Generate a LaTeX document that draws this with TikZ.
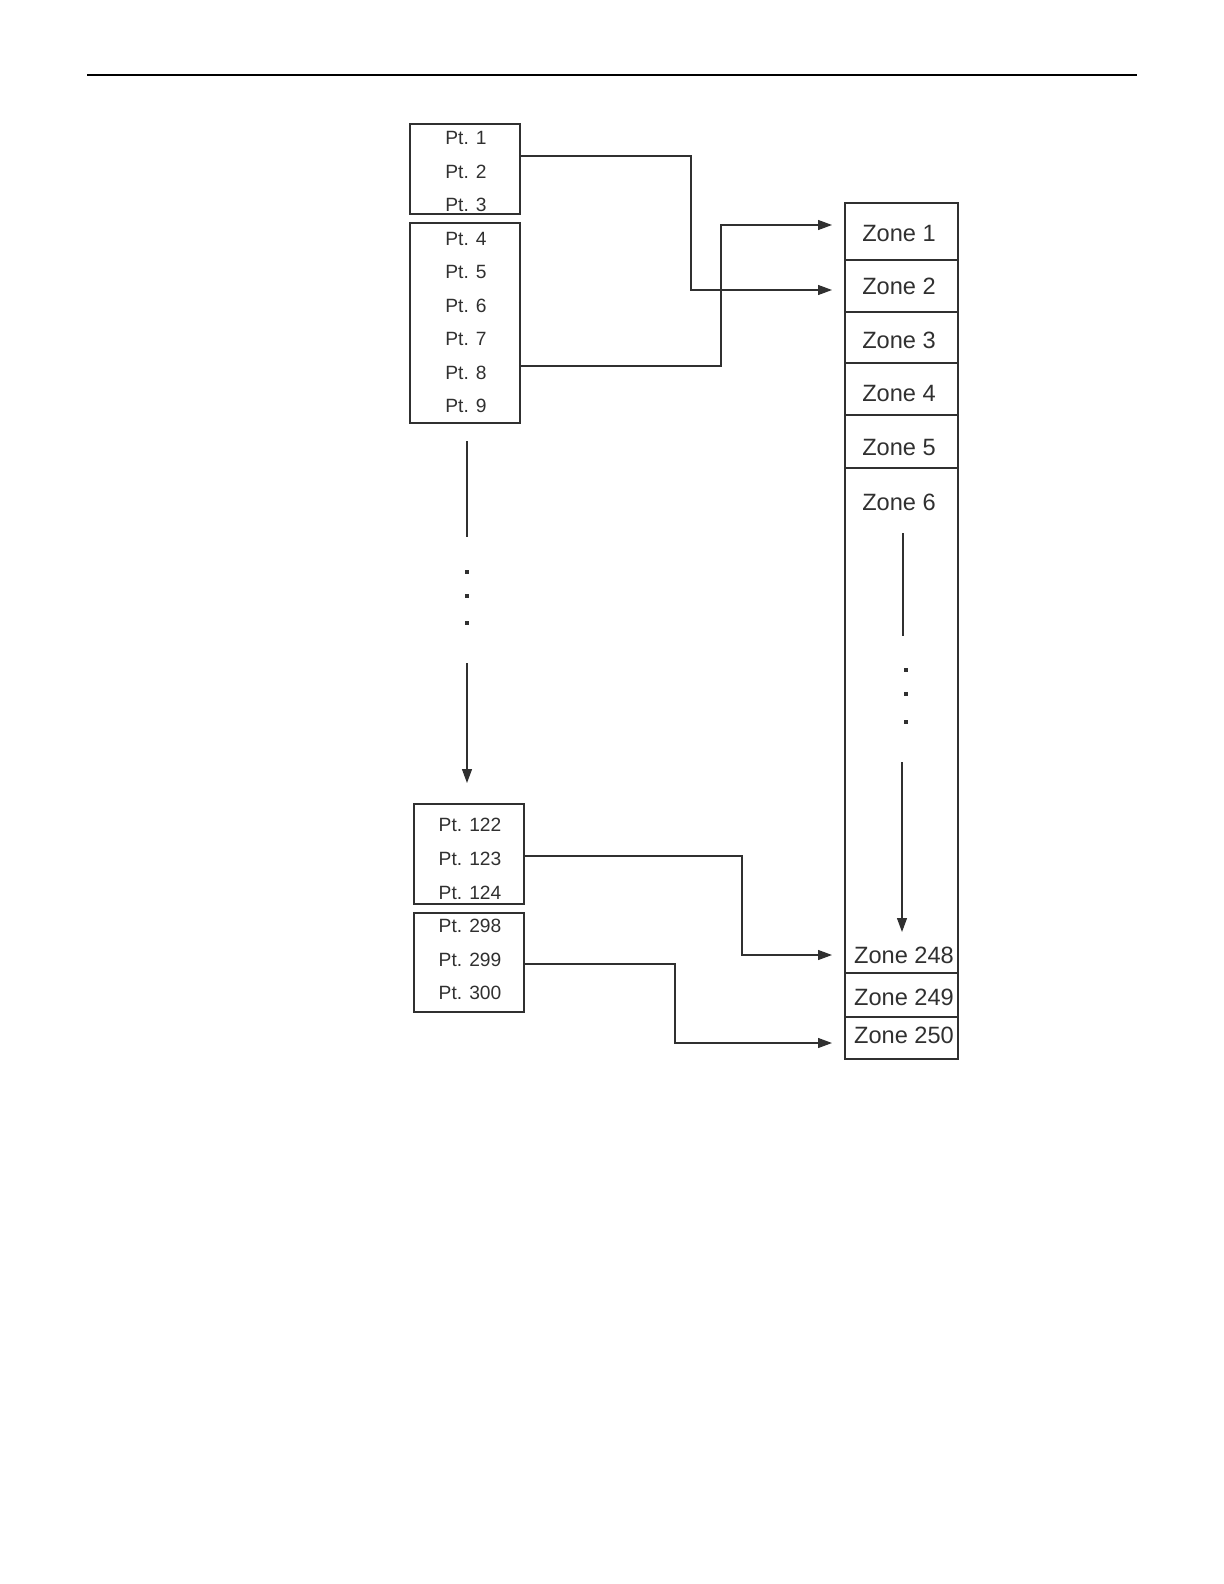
\documentclass[tikz,border=0pt]{standalone}
\usepackage{fontspec}
\setmainfont{Liberation Sans}
\usetikzlibrary{arrows.meta,fit}
\definecolor{ink}{HTML}{303030}
\tikzset{
  cell/.style={draw=ink, line width=0.6pt, inner sep=0pt},
  ptlabel/.style={font=\fontsize{9.6}{11}\selectfont, text=ink, inner sep=0pt},
  zonelabel/.style={font=\fontsize{11.8}{13}\selectfont, text=ink, inner sep=0pt},
  conn/.style={draw=ink, line width=0.6pt, -{Triangle[length=7pt,width=5pt]}},
  plain/.style={draw=ink, line width=0.6pt},
  dot/.style={fill=ink, minimum size=1.6pt, inner sep=0pt, shape=rectangle}
}
\begin{document}
\begin{tikzpicture}[x=0.5pt,y=-0.5pt]
\useasboundingbox (0,0) rectangle (1224,1584);
% header rule
\coordinate (ruleL) at (87,75);
\coordinate (ruleR) at (1137,75);
\draw[line width=1pt, black] (ruleL) -- (ruleR);

% point boxes
\node[cell, fit={(410,124) (520,214)}] (b1) {};
\node[cell, fit={(410,223) (520,423)}] (b2) {};
\node[cell, fit={(414,804) (524,904)}] (b3) {};
\node[cell, fit={(414,913) (524,1012)}] (b4) {};

\node[ptlabel] (p1) at (466,138) {Pt. 1};
\node[ptlabel] (p2) at (466,172) {Pt. 2};
\node[ptlabel] (p3) at (466,205) {Pt. 3};
\node[ptlabel] (p4) at (466,239) {Pt. 4};
\node[ptlabel] (p5) at (466,272) {Pt. 5};
\node[ptlabel] (p6) at (466,306) {Pt. 6};
\node[ptlabel] (p7) at (466,339) {Pt. 7};
\node[ptlabel] (p8) at (466,373) {Pt. 8};
\node[ptlabel] (p9) at (466,406) {Pt. 9};
\node[ptlabel] (p122) at (470,825) {Pt. 122};
\node[ptlabel] (p123) at (470,859) {Pt. 123};
\node[ptlabel] (p124) at (470,893) {Pt. 124};
\node[ptlabel] (p298) at (470,926) {Pt. 298};
\node[ptlabel] (p299) at (470,960) {Pt. 299};
\node[ptlabel] (p300) at (470,993) {Pt. 300};

% zone cells
\node[cell, fit={(845,203) (958,260)}] (z1) {};
\node[cell, fit={(845,260) (958,312)}] (z2) {};
\node[cell, fit={(845,312) (958,363)}] (z3) {};
\node[cell, fit={(845,363) (958,415)}] (z4) {};
\node[cell, fit={(845,415) (958,468)}] (z5) {};
\node[cell, fit={(845,468) (958,973)}] (z6) {};
\node[cell, fit={(845,973) (958,1017)}] (z249) {};
\node[cell, fit={(845,1017) (958,1059)}] (z250) {};

\node[zonelabel] (t1) at (899,233) {Zone 1};
\node[zonelabel] (t2) at (899,286) {Zone 2};
\node[zonelabel] (t3) at (899,340) {Zone 3};
\node[zonelabel] (t4) at (899,393) {Zone 4};
\node[zonelabel] (t5) at (899,447) {Zone 5};
\node[zonelabel] (t6) at (899,502) {Zone 6};
\node[zonelabel] (t248) at (904,955) {Zone 248};
\node[zonelabel] (t249) at (904,997) {Zone 249};
\node[zonelabel] (t250) at (904,1035) {Zone 250};

% connector start points on the box edges
\coordinate (s1) at (520,156);
\coordinate (s2) at (520,366);
\coordinate (s3) at (524,856);
\coordinate (s4) at (524,964);
% arrow end points just left of the zone column
\coordinate (e1) at (832,225);
\coordinate (e2) at (832,290);
\coordinate (e248) at (832,955);
\coordinate (e250) at (832,1043);

% connectors
\draw[conn] (s1) -- (691,156) -- (691,290) -- (e2);
\draw[conn] (s2) -- (721,366) -- (721,225) -- (e1);
\draw[conn] (s3) -- (742,856) -- (742,955) -- (e248);
\draw[conn] (s4) -- (675,964) -- (675,1043) -- (e250);

% left continuation
\coordinate (la) at (467,441);
\coordinate (lb) at (467,537);
\coordinate (lc) at (467,663);
\coordinate (ld) at (467,783);
\draw[plain] (la) -- (lb);
\draw[conn] (lc) -- (ld);
\node[dot] (ld1) at (467,572) {};
\node[dot] (ld2) at (467,596) {};
\node[dot] (ld3) at (467,623) {};

% zone continuation
\coordinate (za) at (903,533);
\coordinate (zb) at (903,636);
\coordinate (zc) at (902,762);
\coordinate (zd) at (902,932);
\draw[plain] (za) -- (zb);
\draw[conn] (zc) -- (zd);
\node[dot] (zd1) at (906,670) {};
\node[dot] (zd2) at (906,694) {};
\node[dot] (zd3) at (906,722) {};
\end{tikzpicture}
\end{document}
